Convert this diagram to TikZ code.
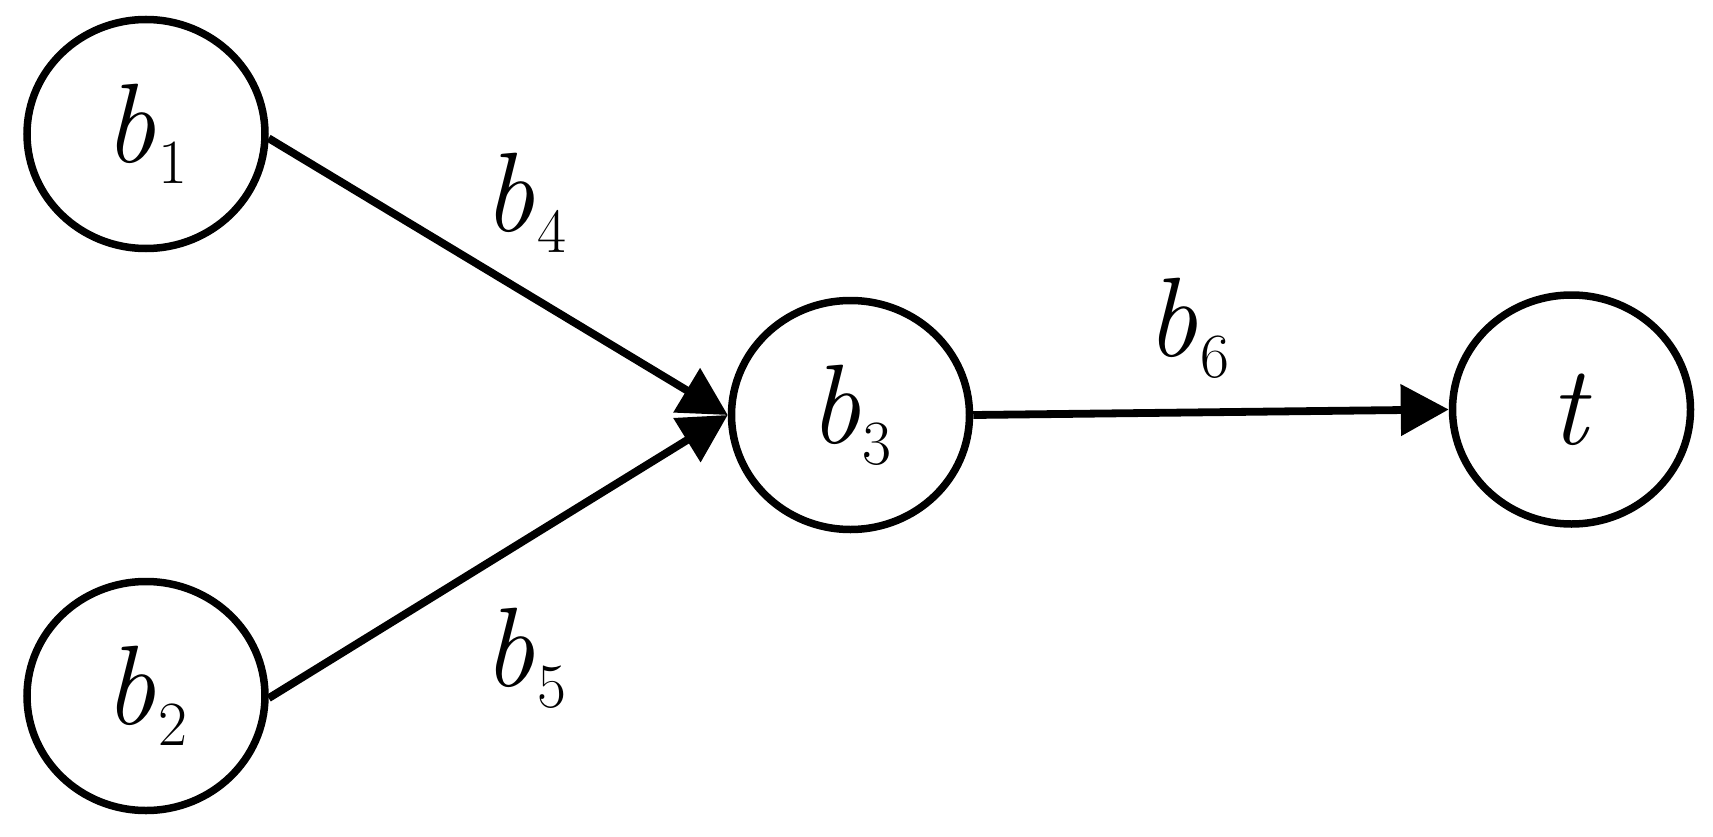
\documentclass[tikz,border=0pt]{standalone}
\usetikzlibrary{shapes.geometric,arrows.meta}
\newcommand{\lbl}[2]{\textit{#1}\kern3pt\raisebox{-21pt}{\fontsize{63}{65}\selectfont #2}}
\tikzset{
  vnode/.style={ellipse, draw, line width=7.5pt, minimum width=238pt, minimum height=229pt, inner sep=0pt, font=\fontsize{113}{120}\selectfont},
  edgelabel/.style={inner sep=0pt, font=\fontsize{113}{120}\selectfont},
  arr/.style={line width=7.8pt, -{Triangle[length=48pt,width=50pt]}}
}
\begin{document}
\begin{tikzpicture}[x=1pt,y=-1pt]
\useasboundingbox (0,0) rectangle (1713,837);
\node[vnode] (b1) at (146,134) {\lbl{b}{1}};
\node[vnode] (b2) at (146,696) {\lbl{b}{2}};
\node[vnode] (b3) at (850.5,415) {\lbl{b}{3}};
\node[vnode] (t) at (1571.5,409.5) {\textit{t}};
\draw[arr] (b1.-2) -- (b3.west);
\draw[arr] (b2.-1) -- (b3.west);
\draw[arr] (b3.east) -- (t.west);
\node[edgelabel] (l4) at (525,203) {\lbl{b}{4}};
\node[edgelabel] (l5) at (525,658) {\lbl{b}{5}};
\node[edgelabel] (l6) at (1188,328) {\lbl{b}{6}};
\end{tikzpicture}
\end{document}
